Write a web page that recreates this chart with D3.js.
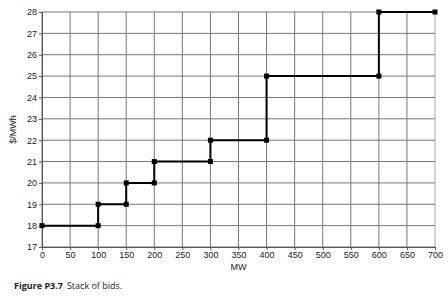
<!DOCTYPE html>
<html>
<head>
<meta charset="utf-8">
<script src="https://cdn.jsdelivr.net/npm/d3@7"></script>
<style>
  body { margin: 0; background: #fff; }
  svg { display: block; }
</style>
</head>
<body>
<div id="chart"></div>
<script>
// bid stack: quantity (MW) and price ($/MWh) at each corner of the step
var mw    = [0, 100, 100, 150, 150, 200, 200, 300, 300, 400, 400, 600, 600, 700];
var price = [18, 18, 19, 19, 20, 20, 21, 21, 22, 22, 25, 25, 28, 28];
var xTicks = d3.range(0, 701, 50);
var yTicks = d3.range(17, 29, 1);

var margin = { top: 12, right: 13, bottom: 51, left: 42 },
    width = 448 - margin.left - margin.right,
    height = 298 - margin.top - margin.bottom;

var svg = d3.select("#chart")
    .append("svg")
    .attr("width", 448)
    .attr("height", 298);

var g = svg.append("g")
    .attr("transform", "translate(" + margin.left + "," + margin.top + ")");

var x = d3.scaleLinear().domain([0, 700]).range([0, width]);
var y = d3.scaleLinear().domain([17, 28]).range([height, 0]);

// grid
g.selectAll(".vgrid")
    .data(xTicks)
    .enter()
    .append("line")
    .attr("x1", d => x(d)).attr("x2", d => x(d))
    .attr("y1", 0).attr("y2", height)
    .style("stroke", d => d == 700 ? "#aaa" : "#777")
    .style("stroke-width", 1);

g.selectAll(".hgrid")
    .data(yTicks)
    .enter()
    .append("line")
    .attr("x1", 0).attr("x2", width)
    .attr("y1", d => y(d)).attr("y2", d => y(d))
    .style("stroke", "#777")
    .style("stroke-width", 1);

// axes
var xAxis = g.append("g")
    .attr("transform", "translate(0," + height + ")")
    .call(d3.axisBottom(x).tickValues(xTicks).tickSize(3).tickPadding(2));
var yAxis = g.append("g")
    .call(d3.axisLeft(y).tickValues(yTicks).tickSize(3).tickPadding(2));

[xAxis, yAxis].forEach(function (a) {
    a.select(".domain").style("stroke", "#555");
    a.selectAll(".tick line").style("stroke", "#555");
    a.selectAll("text")
        .style("font-family", "Liberation Sans, Arial, sans-serif")
        .style("font-size", "9px")
        .style("fill", "#222");
});

// step line
var pts = mw.map((m, i) => [m, price[i]]);
g.append("path")
    .datum(pts)
    .attr("fill", "none")
    .attr("stroke", "#000")
    .attr("stroke-width", 2)
    .attr("d", d3.line().x(d => x(d[0])).y(d => y(d[1])));

g.selectAll(".pt")
    .data(pts)
    .enter()
    .append("rect")
    .attr("x", d => x(d[0]) - 2.5)
    .attr("y", d => y(d[1]) - 2.5)
    .attr("width", 5)
    .attr("height", 5)
    .attr("fill", "#000");

// axis titles
svg.append("text")
    .attr("x", margin.left + width / 2)
    .attr("y", 270)
    .attr("text-anchor", "middle")
    .style("font-family", "Liberation Sans, Arial, sans-serif")
    .style("font-size", "9px")
    .style("fill", "#222")
    .text("MW");

svg.append("text")
    .attr("transform", "translate(16," + (margin.top + y(22.5)) + ") rotate(-90)")
    .attr("text-anchor", "middle")
    .style("font-family", "Liberation Sans, Arial, sans-serif")
    .style("font-size", "9px")
    .style("fill", "#222")
    .text("$/MWh");

// caption
var cap = svg.append("text")
    .attr("x", 14)
    .attr("y", 289)
    .style("font-family", "Open Sans, Noto Sans, sans-serif")
    .style("font-size", "9px")
    .style("fill", "#222");
cap.append("tspan").style("font-weight", "bold").text("Figure P3.7");
cap.append("tspan").attr("dx", 4).text("Stack of bids.");
</script>
</body>
</html>
